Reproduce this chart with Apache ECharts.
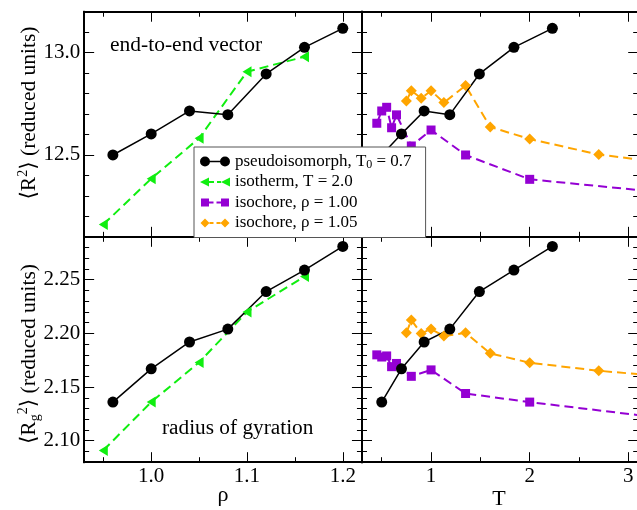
<!DOCTYPE html>
<html>
<head>
<meta charset="utf-8">
<script src="https://cdn.jsdelivr.net/npm/echarts@6/dist/echarts.min.js"></script>
<style>
  html, body { margin: 0; padding: 0; background: #fff; }
  #chart { width: 637px; height: 510px; }
</style>
</head>
<body>
<div id="chart"></div>
<script>
// Pseudoisomorph through (rho = 1.00, T0 = 0.7)
const pseudoRho = [0.96, 1.00, 1.04, 1.08, 1.12, 1.16, 1.20];
const pseudoT = [0.50, 0.70, 0.93, 1.19, 1.49, 1.84, 2.23];
const pseudoR2 = [12.500, 12.603, 12.715, 12.697, 12.896, 13.026, 13.119];
const pseudoRg2 = [2.136, 2.167, 2.192, 2.204, 2.239, 2.259, 2.281];

// Isotherm, T = 2.0
const isothermRho = [0.95, 1.00, 1.05, 1.10, 1.16];
const isothermR2 = [12.160, 12.384, 12.582, 12.907, 12.980];
const isothermRg2 = [2.091, 2.136, 2.173, 2.220, 2.253];

// Isochore, rho = 1.00
const iso100T = [0.45, 0.50, 0.55, 0.60, 0.65, 0.80, 1.00, 1.35, 2.00, 4.00];
const iso100R2 = [12.655, 12.715, 12.733, 12.633, 12.696, 12.544, 12.622, 12.500, 12.381, 12.286];
const iso100Rg2 = [2.180, 2.178, 2.179, 2.169, 2.172, 2.160, 2.166, 2.144, 2.136, 2.114];

// Isochore, rho = 1.05
const iso105T = [0.75, 0.80, 0.90, 1.00, 1.13, 1.35, 1.60, 2.00, 2.70, 4.00];
const iso105R2 = [12.764, 12.814, 12.777, 12.814, 12.756, 12.839, 12.637, 12.578, 12.502, 12.425];
const iso105Rg2 = [2.2006, 2.2124, 2.2000, 2.2040, 2.1975, 2.2006, 2.1814, 2.1727, 2.1652, 2.1548];

// Axis ranges and tick positions
const rhoRange = [0.93, 1.22];
const rhoMajor = [1.0, 1.1, 1.2];
const rhoMinor = [0.95, 1.05, 1.15];
const tRange = [0.3, 3.1];
const tMajor = [1, 2, 3];
const tMinor = [0.5, 1.5, 2.5];
const r2Range = [12.1, 13.2];
const r2Major = [12.5, 13.0];
const r2Minor = [12.2, 12.3, 12.4, 12.6, 12.7, 12.8, 12.9, 13.1];
const rg2Range = [2.08, 2.29];
const rg2Major = [2.10, 2.15, 2.20, 2.25];
const rg2Minor = [2.09, 2.11, 2.12, 2.13, 2.14, 2.16, 2.17, 2.18, 2.19, 2.21, 2.22, 2.23, 2.24, 2.26, 2.27, 2.28];

const legendText = {
  pseudo: 'pseudoisomorph, T{sub|0} = 0.7',
  isotherm: 'isotherm, T = 2.0',
  iso100: 'isochore, \u03C1 = 1.00',
  iso105: 'isochore, \u03C1 = 1.05'
};

const FONT = "'Liberation Serif', 'DejaVu Serif', serif";

// Panel frames: [left, top, width, height]
const panels = [
  [84.15, 11.73, 277.8, 225.1],   // top-left:    <R^2> vs rho
  [362.0, 11.73, 276.2, 225.1],   // top-right:   <R^2> vs T
  [84.15, 236.8, 277.8, 225.4],   // bottom-left: <Rg^2> vs rho
  [362.0, 236.8, 276.2, 225.4]    // bottom-right:<Rg^2> vs T
];

// Four value axes per dimension per panel: major/minor ticks on both sides
function axisSet(dim, gridIndex, range, majors, minors, fmt) {
  const primary = dim === 'x' ? 'bottom' : 'left';
  const opposite = dim === 'x' ? 'top' : 'right';
  const mk = (position, values, len, withLabels) => ({
    type: 'value',
    gridIndex: gridIndex,
    position: position,
    min: range[0],
    max: range[1],
    splitLine: { show: false },
    minorTick: { show: false },
    axisLine: { show: true, onZero: false, lineStyle: { color: '#000', width: 2 } },
    axisTick: { show: true, inside: true, length: len, customValues: values,
                lineStyle: { color: '#000', width: 1 } },
    axisLabel: withLabels ? {
      show: true, customValues: values, formatter: fmt,
      margin: 4,
      fontFamily: FONT, fontSize: 21, color: '#000'
    } : { show: false }
  });
  return [
    mk(primary, majors, 10, !!fmt),
    mk(primary, minors, 5, false),
    mk(opposite, majors, 10, false),
    mk(opposite, minors, 5, false)
  ];
}

const fmt1 = v => v.toFixed(1);
const fmt2 = v => v.toFixed(2);
const fmtInt = v => String(Math.round(v));

const xAxes = [].concat(
  axisSet('x', 0, rhoRange, rhoMajor, rhoMinor, null),
  axisSet('x', 1, tRange, tMajor, tMinor, null),
  axisSet('x', 2, rhoRange, rhoMajor, rhoMinor, fmt1),
  axisSet('x', 3, tRange, tMajor, tMinor, fmtInt)
);
const yAxes = [].concat(
  axisSet('y', 0, r2Range, r2Major, r2Minor, fmt1),
  axisSet('y', 1, r2Range, r2Major, r2Minor, null),
  axisSet('y', 2, rg2Range, rg2Major, rg2Minor, fmt2),
  axisSet('y', 3, rg2Range, rg2Major, rg2Minor, null)
);

const styles = {
  pseudo: { color: '#000000', symbol: 'circle', symbolSize: 11,
            lineStyle: { color: '#000000', width: 1.5, type: 'solid' } },
  isotherm: { color: '#10ee10', symbol: 'triangle', symbolRotate: 90, symbolSize: [11, 9],
              lineStyle: { color: '#10ee10', width: 2, type: [9, 5] } },
  iso100: { color: '#9400d3', symbol: 'rect', symbolSize: 9,
            lineStyle: { color: '#9400d3', width: 2, type: [9, 5] } },
  iso105: { color: '#ffa500', symbol: 'diamond', symbolSize: 11,
            lineStyle: { color: '#ffa500', width: 2, type: [9, 5] } }
};

function line(name, gi, xs, ys) {
  return Object.assign({
    type: 'line',
    name: name,
    xAxisIndex: gi * 4,
    yAxisIndex: gi * 4,
    data: xs.map((x, i) => [x, ys[i]]),
    showSymbol: true,
    clip: true,
    silent: true,
    emphasis: { disabled: true },
    itemStyle: { color: styles[name].color }
  }, styles[name]);
}

const series = [
  line('isotherm', 0, isothermRho, isothermR2),
  line('pseudo', 0, pseudoRho, pseudoR2),
  line('iso105', 1, iso105T, iso105R2),
  line('iso100', 1, iso100T, iso100R2),
  line('pseudo', 1, pseudoT, pseudoR2),
  line('isotherm', 2, isothermRho, isothermRg2),
  line('pseudo', 2, pseudoRho, pseudoRg2),
  line('iso105', 3, iso105T, iso105Rg2),
  line('iso100', 3, iso100T, iso100Rg2),
  line('pseudo', 3, pseudoT, pseudoRg2)
];

// Legend keys: marker at both ends joined by the series' line
const ends = 'M0,0h0.01v0.01h-0.01Z M29.99,9.99h0.01v0.01h-0.01Z ';
const legendIcons = {
  pseudo: 'path://M0,5A5,5,0,1,1,10,5A5,5,0,1,1,0,5Z M20,5A5,5,0,1,1,30,5A5,5,0,1,1,20,5Z M8,4.2H22V5.8H8Z',
  isotherm: 'path://' + ends + 'M0,5L9,0.5L9,9.5Z M21,5L30,0.5L30,9.5Z M9,4.1H14V5.9H9Z M17,4.1H21V5.9H17Z',
  iso100: 'path://' + ends + 'M1,1H9V9H1Z M21,1H29V9H21Z M9,4.1H13.5V5.9H9Z M16.5,4.1H21V5.9H16.5Z',
  iso105: 'path://' + ends + 'M0.5,5L5,0.5L9.5,5L5,9.5Z M20.5,5L25,0.5L29.5,5L25,9.5Z M9.5,4.1H13.5V5.9H9.5Z M16.5,4.1H20.5V5.9H16.5Z'
};

const titleRich = {
  m: { fontFamily: FONT, fontSize: 21.5, lineHeight: 26, fill: '#000' },
  sup: { fontFamily: FONT, fontSize: 14, lineHeight: 8, verticalAlign: 'top', fill: '#000' },
  sub: { fontFamily: FONT, fontSize: 14, lineHeight: 8, verticalAlign: 'bottom', fill: '#000' }
};

const option = {
  animation: false,
  backgroundColor: '#fff',
  grid: panels.map(p => ({
    left: p[0], top: p[1], width: p[2], height: p[3],
    containLabel: false, outerBoundsMode: 'none', show: false
  })),
  xAxis: xAxes,
  yAxis: yAxes,
  series: series,
  legend: {
    orient: 'vertical',
    left: 194,
    top: 147,
    padding: [5.5, 14, 5.5, 6],
    itemGap: 2.5,
    itemWidth: 30,
    itemHeight: 10,
    backgroundColor: '#fff',
    borderColor: '#555',
    borderWidth: 1,
    borderRadius: 0,
    selectedMode: false,
    formatter: n => legendText[n],
    textStyle: {
      fontFamily: FONT, fontSize: 17, color: '#000', lineHeight: 18,
      rich: { sub: { fontFamily: FONT, fontSize: 12, lineHeight: 8, verticalAlign: 'bottom', color: '#000' } }
    },
    data: ['pseudo', 'isotherm', 'iso100', 'iso105'].map(n => ({ name: n, icon: legendIcons[n] }))
  },
  graphic: [
    { type: 'text', left: 110, top: 34, silent: true,
      style: { text: 'end-to-end vector', fontFamily: FONT, fontSize: 21.5, fill: '#000' } },
    { type: 'text', left: 162, top: 418, silent: true,
      style: { text: 'radius of gyration', fontFamily: FONT, fontSize: 21.3, fill: '#000' } },
    { type: 'text', x: 29, y: 113, rotation: Math.PI / 2, silent: true,
      style: { text: '{m|\u27E8R}{sup|2}{m|\u27E9 (reduced units)}', rich: titleRich,
               align: 'center', verticalAlign: 'middle' } },
    { type: 'text', x: 29, y: 354, rotation: Math.PI / 2, silent: true,
      style: { text: '{m|\u27E8R}{sub|g}{sup|2}{m|\u27E9 (reduced units)}', rich: titleRich,
               align: 'center', verticalAlign: 'middle' } },
    { type: 'text', x: 223, y: 495, silent: true,
      style: { text: '\u03C1', fontFamily: FONT, fontSize: 22, fill: '#000',
               align: 'center', verticalAlign: 'middle' } },
    { type: 'text', x: 499, y: 499, silent: true,
      style: { text: 'T', fontFamily: FONT, fontSize: 22, fill: '#000',
               align: 'center', verticalAlign: 'middle' } }
  ]
};

const chart = echarts.init(document.getElementById('chart'), null, { renderer: 'canvas' });
chart.setOption(option);
</script>
</body>
</html>
